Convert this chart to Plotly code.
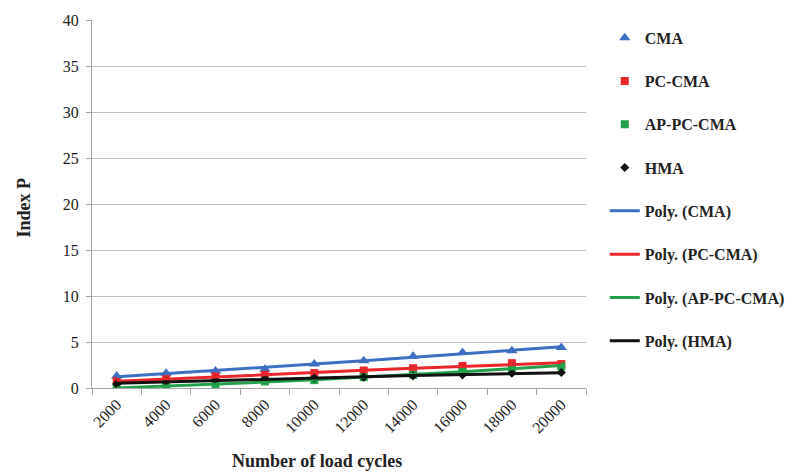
import numpy as np
import plotly.graph_objects as go

categories = ["2000", "4000", "6000", "8000", "10000", "12000", "14000", "16000", "18000", "20000"]
cma = [1.3, 1.6, 1.85, 2.05, 2.6, 2.95, 3.45, 3.85, 4.05, 4.4]
pc_cma = [0.75, 0.97, 1.25, 1.43, 1.62, 1.9, 2.15, 2.4, 2.7, 2.6]
ap_pc_cma = [0.1, 0.17, 0.25, 0.72, 0.85, 1.18, 1.43, 1.9, 2.15, 2.35]
hma = [0.43, 0.72, 0.9, 1.0, 1.08, 1.18, 1.32, 1.43, 1.6, 1.68]
series_names = ["CMA", "PC-CMA", "AP-PC-CMA", "HMA"]
y_ticks = [0, 5, 10, 15, 20, 25, 30, 35, 40]

FONT = "'Liberation Serif', 'DejaVu Serif', 'Times New Roman', serif"
colors = ["#3F6FC2", "#E8262B", "#22A04B", "#111111"]
symbols = ["triangle-up", "square", "square", "diamond"]
sizes = [10, 8, 8, 7]
data = [cma, pc_cma, ap_pc_cma, hma]

fig = go.Figure()
idx = np.arange(1, len(categories) + 1)

# trend lines (2nd order polynomial fits, as in the original "Poly." trendlines)
fits = []
for vals in data:
    coef = np.polyfit(idx, vals, 2)
    fits.append(np.polyval(coef, idx))

for i, (name, vals) in enumerate(zip(series_names, data)):
    fig.add_trace(go.Scatter(
        x=categories, y=vals, mode="markers", name=name,
        marker=dict(symbol=symbols[i], color=colors[i], size=sizes[i]),
        legendgroup=f"m{i}", legendrank=i + 1,
    ))
for i, name in enumerate(series_names):
    fig.add_trace(go.Scatter(
        x=categories, y=fits[i], mode="lines", name=f"Poly. ({name})",
        line=dict(color=colors[i], width=3),
        legendgroup=f"l{i}", legendrank=i + 5,
    ))

fig.update_layout(
    width=802, height=475,
    margin=dict(l=92, r=205, t=17, b=87),
    paper_bgcolor="white", plot_bgcolor="white",
    font=dict(family=FONT, size=16, color="#222222"),
    showlegend=True,
    legend=dict(
        x=1.038, xanchor="left", y=0.998, yanchor="top",
        font=dict(family=FONT, size=16, color="#222222", weight="bold"),
        tracegroupgap=19.5, bgcolor="rgba(0,0,0,0)",
    ),
    xaxis=dict(
        type="category", tickangle=-45, tickson="boundaries",
        ticks="outside", ticklen=6, tickcolor="#A6A6A6",
        showline=True, linecolor="#A6A6A6", linewidth=1,
        showgrid=False, tickfont=dict(family=FONT, size=16, color="#222222"),
        range=[-0.5, len(categories) - 0.5],
    ),
    yaxis=dict(
        range=[0, 40], tickvals=y_ticks,
        ticks="outside", ticklen=5, tickcolor="#A6A6A6",
        showline=True, linecolor="#A6A6A6", linewidth=1,
        showgrid=True, gridcolor="#BFBFBF", gridwidth=1, zeroline=False,
        tickfont=dict(family=FONT, size=16, color="#222222"),
        ticklabelstandoff=4,
    ),
    annotations=[
        dict(text="<b>Index P</b>", xref="paper", yref="paper",
             x=-0.138, y=0.49, textangle=-90, showarrow=False,
             font=dict(family=FONT, size=18, color="#222222"),
             xanchor="center", yanchor="middle"),
        dict(text="<b>Number of load cycles</b>", xref="paper", yref="paper",
             x=0.455, y=-0.199, showarrow=False,
             font=dict(family=FONT, size=18, color="#222222"),
             xanchor="center", yanchor="middle"),
    ],
)

fig.write_html("out.html")
